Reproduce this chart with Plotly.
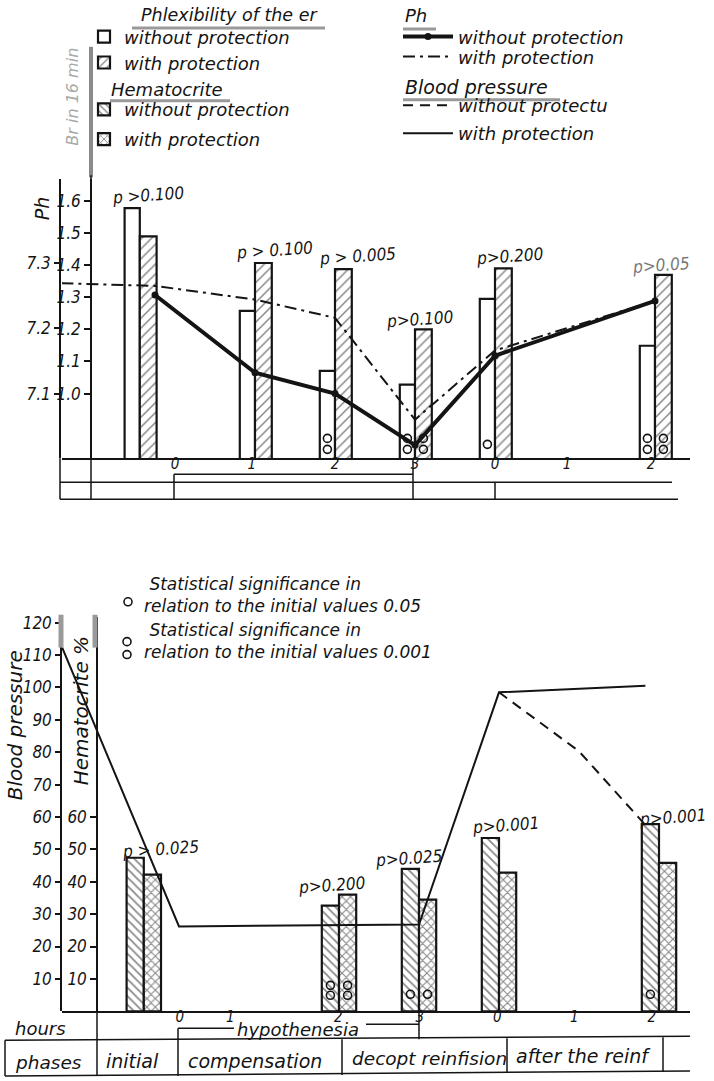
import plotly.graph_objects as go

# ---------------- data ----------------
hour_ticks = ["0", "1", "2", "3", "0", "1", "2"]
phases = ["initial", "compensation", "decopt reinfision", "after the reinf"]

# Flexibility of erythrocytes (top panel bars)
flex_groups = ["initial", "hyp 1 h", "hyp 2 h", "hyp 3 h", "reinf 0 h", "reinf 2 h"]
flex_without = [1.578, 1.258, 1.071, 1.028, 1.295, 1.149]
flex_with = [1.490, 1.407, 1.388, 1.200, 1.390, 1.370]
flex_p = ["p >0.100", "p > 0.100", "p > 0.005", "p>0.100", "p>0.200", "p>0.05"]
flex_sig_without = [0, 0, 2, 2, 1, 2]
flex_sig_with = [0, 0, 0, 2, 0, 2]

# pH (top panel lines)
ph_without_t = ["initial end", "hyp 1 h", "hyp 2 h", "hyp 3 h", "reinf 0 h", "reinf 2 h"]
ph_without = [7.251, 7.132, 7.100, 7.021, 7.158, 7.242]
ph_with_t = ["baseline", "initial end", "hyp 1 h", "hyp 2 h", "hyp 3 h", "reinf 0 h", "reinf 2 h"]
ph_with = [7.269, 7.265, 7.244, 7.216, 7.060, 7.166, 7.242]

# Hematocrit (bottom panel bars)
hct_groups = ["initial", "hyp 2 h", "hyp 3 h", "reinf 0 h", "reinf 2 h"]
hct_without = [47.4, 32.6, 44.0, 53.5, 57.8]
hct_with = [42.2, 36.0, 34.5, 42.8, 45.8]
hct_p = ["p > 0.025", "p>0.200", "p>0.025", "p>0.001", "p>0.001"]
hct_sig_without = [0, 2, 1, 0, 1]
hct_sig_with = [0, 2, 1, 0, 0]

# Blood pressure (bottom panel lines)
bp_with_t = ["baseline", "hyp 0 h", "hyp 3 h", "reinf 0 h", "reinf 2 h"]
bp_with = [112.3, 26.2, 26.8, 98.5, 100.5]
bp_without_t = ["reinf 0 h", "reinf 1 h", "reinf 2 h"]
bp_without = [98.5, 80.3, 57.5]

# ---------------- layout helpers ----------------
W, H = 714, 1081
def fx(p): return p / W
def fy(p): return 1 - p / H

FONT = "DejaVu Sans, Liberation Sans, sans-serif"
FONTC = "DejaVu Sans Condensed, DejaVu Sans, sans-serif"
INK = "#141414"

# time axis positions (hours); bars sit on these slots
slot = {"initial": -0.44, "hyp 0 h": 0, "hyp 1 h": 1, "hyp 2 h": 2, "hyp 3 h": 3,
        "reinf 0 h": 4, "reinf 1 h": 5, "reinf 2 h": 6}
line_slot = dict(slot, **{"baseline": -1.42, "initial end": -0.25})
bp_slot = dict(slot, **{"baseline": -1.46, "reinf 2 h": 5.83})

# pixel frames of the two panels
X_L, X_R = 62, 690
TOP_T, TOP_B = 176, 456
BOT_T, BOT_B = 615, 1011
top_xr = [(X_L - 175) / 80, (X_R - 175) / 80]
bot_xr = [(X_L - 179) / 80, (X_R - 179) / 80]
flex_r = [1.0 - (TOP_B - 391) / 322, 1.0 + (391 - TOP_T) / 322]
ph_r = [7.3 - (TOP_B - 260) / 655, 7.3 + (260 - TOP_T) / 655]
hb_r = [0, (BOT_B - BOT_T) / 3.25]

def flex_at(p): return 1.0 + (391 - p) / 322
def hb_at(p): return (BOT_B - p) / 3.25

BW_T, BW_B = 0.19, 0.215

fig = go.Figure()

# ---- top panel bars
fig.add_trace(go.Bar(x=[slot[g] for g in flex_groups], y=flex_without, width=BW_T, offset=-BW_T,
                     marker=dict(color="white", line=dict(color=INK, width=2.2)),
                     name="without protection", xaxis="x", yaxis="y", legend="legend"))
fig.add_trace(go.Bar(x=[slot[g] for g in flex_groups], y=flex_with, width=BW_T + 0.02, offset=0,
                     marker=dict(color="white", line=dict(color=INK, width=2.2),
                                 pattern=dict(shape="/", size=7, solidity=0.22, fgcolor=INK, bgcolor="white")),
                     name="with protection", xaxis="x", yaxis="y", legend="legend2"))

# ---- pH lines
fig.add_trace(go.Scatter(x=[line_slot[t] for t in ph_with_t], y=ph_with, mode="lines",
                         line=dict(color=INK, width=2, dash="12px,5px,3px,5px"),
                         name="with protection", xaxis="x", yaxis="y2", legend="legend6"))
fig.add_trace(go.Scatter(x=[line_slot[t] for t in ph_without_t], y=ph_without, mode="lines+markers",
                         line=dict(color=INK, width=4), marker=dict(size=7, color=INK),
                         name="without protection", xaxis="x", yaxis="y2", legend="legend5"))

# ---- significance circles
def sig_points(groups, sig, off, sl, lo, hi, mid):
    xs, ys = [], []
    for g, n in zip(groups, sig):
        if n == 2:
            xs += [sl[g] + off] * 2
            ys += [lo, hi]
        elif n == 1:
            xs.append(sl[g] + off)
            ys.append(mid)
    return xs, ys

circ = dict(symbol="circle-open", size=8, color=INK, line=dict(width=1.6, color=INK))
for sig, off in [(flex_sig_without, -BW_T / 2), (flex_sig_with, BW_T / 2 + 0.01)]:
    xs, ys = sig_points(flex_groups, sig, off, slot, flex_at(TOP_B - 9), flex_at(TOP_B - 20), flex_at(TOP_B - 14))
    fig.add_trace(go.Scatter(x=xs, y=ys, mode="markers", marker=circ, showlegend=False, xaxis="x", yaxis="y"))

# ---- bottom panel bars
fig.add_trace(go.Bar(x=[slot[g] for g in hct_groups], y=hct_without, width=BW_B, offset=-BW_B,
                     marker=dict(color="white", line=dict(color=INK, width=2.2),
                                 pattern=dict(shape="\\", size=6, solidity=0.3, fgcolor=INK, bgcolor="white")),
                     name="without protection", xaxis="x2", yaxis="y3", legend="legend3"))
fig.add_trace(go.Bar(x=[slot[g] for g in hct_groups], y=hct_with, width=BW_B, offset=0,
                     marker=dict(color="white", line=dict(color=INK, width=2.2),
                                 pattern=dict(shape="x", size=6, solidity=0.35, fgcolor=INK, bgcolor="white")),
                     name="with protection", xaxis="x2", yaxis="y3", legend="legend4"))

for sig, off in [(hct_sig_without, -BW_B / 2), (hct_sig_with, BW_B / 2)]:
    xs, ys = sig_points(hct_groups, sig, off, slot, hb_at(BOT_B - 16), hb_at(BOT_B - 26), hb_at(BOT_B - 17))
    fig.add_trace(go.Scatter(x=xs, y=ys, mode="markers", marker=circ, showlegend=False, xaxis="x2", yaxis="y3"))

# ---- blood pressure lines
fig.add_trace(go.Scatter(x=[bp_slot[t] for t in bp_without_t], y=bp_without, mode="lines",
                         line=dict(color=INK, width=2, dash="10px,7px"),
                         name="without protectu", xaxis="x2", yaxis="y4", legend="legend7"))
fig.add_trace(go.Scatter(x=[bp_slot[t] for t in bp_with_t], y=bp_with, mode="lines",
                         line=dict(color=INK, width=2),
                         name="with protection", xaxis="x2", yaxis="y4", legend="legend8"))

# ---------------- axes ----------------
tickf = dict(family=FONTC, size=17, color=INK, style="italic")
xcommon = dict(domain=[fx(X_L), fx(X_R)], showline=True, linecolor=INK, linewidth=2,
               showgrid=False, zeroline=False, ticks="", ticklabelstandoff=-9,
               tickfont=dict(family=FONTC, size=15, color=INK, style="italic"))
ycommon = dict(showline=True, linecolor=INK, linewidth=1.5, showgrid=False, zeroline=False,
               ticks="outside", ticklen=6, tickwidth=1.5, tickcolor=INK, tickfont=tickf, anchor="free")

fig.update_layout(
    width=W, height=H, margin=dict(l=0, r=0, t=0, b=0),
    paper_bgcolor="white", plot_bgcolor="rgba(0,0,0,0)", barmode="overlay",
    xaxis=dict(xcommon, range=top_xr, anchor="y",
               tickvals=[0, 0.96, 2, 3, 4, 4.9, 5.95], ticktext=hour_ticks),
    yaxis=dict(ycommon, domain=[fy(TOP_B), fy(TOP_T)], range=flex_r, position=fx(91),
               tickvals=[1.0, 1.1, 1.2, 1.3, 1.4, 1.5, 1.6], ticktext=["1.0", "1.1", "1.2", "1.3", "1.4", "1.5", "1.6"]),
    yaxis2=dict(ycommon, overlaying="y", range=ph_r, position=fx(60),
                tickvals=[7.1, 7.2, 7.3], ticktext=["7.1", "7.2", "7.3"], ticklen=5),
    xaxis2=dict(xcommon, range=bot_xr, anchor="y3",
                tickvals=[0.01, 0.64, 1.99, 3.01, 3.98, 4.94, 5.91], ticktext=hour_ticks),
    yaxis3=dict(ycommon, domain=[fy(BOT_B), fy(BOT_T)], range=hb_r, position=fx(97),
                tickvals=[10, 20, 30, 40, 50, 60]),
    yaxis4=dict(ycommon, overlaying="y3", range=hb_r, position=fx(61),
                tickvals=[10, 20, 30, 40, 50, 60, 70, 80, 90, 100, 110, 120], ticklen=5),
)

# ---------------- legends ----------------
def leg(xp, yp, iw=30):
    return dict(x=fx(xp), y=fy(yp), xanchor="left", yanchor="middle", bgcolor="rgba(0,0,0,0)",
                borderwidth=0, itemwidth=iw, font=dict(family=FONT, size=18, color=INK, style="italic"))

fig.update_layout(legend=leg(84, 33), legend2=leg(84, 59), legend3=leg(84, 106), legend4=leg(84, 136),
                  legend5=leg(398, 33, 50), legend6=leg(398, 53, 50), legend7=leg(398, 102, 50),
                  legend8=leg(398, 130, 50))

# ---------------- text ----------------
ann = []
def txt(x, y, s, size=16, angle=0, xa="left", color=INK, family=FONT, align="left"):
    ann.append(dict(x=fx(x), y=fy(y), xref="paper", yref="paper", text=s, showarrow=False,
                    xanchor=xa, yanchor="middle", textangle=angle, align=align,
                    font=dict(family=family, size=size, color=color, style="italic")))

txt(229, 11, "Phlexibility of the er", 17.5, xa="center")
txt(109, 86, "Hematocrite", 18)
txt(403, 12, "Ph", 18)
txt(403, 83, "Blood pressure", 19)
txt(73, 93, "Br in 16 min", 16, angle=-90, xa="center", color="#a8a8a8")

txt(42, 205, "Ph", 19, angle=-90, xa="center")
txt(15, 724, "Blood pressure", 20, angle=-90, xa="center")
txt(81, 710, "Hematocrite %", 20, angle=-90, xa="center")

# p-values
for s, (x, y) in zip(flex_p, [(148, 192), (274, 247), (357, 253), (419, 316), (509, 253), (661, 262)]):
    txt(x, y, s, 17, angle=-4, xa="center", family=FONTC, color="#777" if s == "p>0.05" else INK)
for s, (x, y) in zip(hct_p, [(160, 848), (331, 884), (408, 857), (505, 824), (672, 816)]):
    txt(x, y, s, 17, angle=-4, xa="center", family=FONTC)

# statistical significance key
txt(142, 593, "&nbsp;Statistical significance in<br>relation to the initial values 0.05", 17)
txt(142, 639, "&nbsp;Statistical significance in<br>relation to the initial values 0.001", 17)

# table text
txt(13, 1028, "hours", 18)
txt(13, 1062, "phases", 18.5)
txt(104, 1061, phases[0], 19)
txt(186, 1061, phases[1], 19)
txt(350, 1058, phases[2], 18.5)
txt(514, 1056, phases[3], 19)
txt(298, 1029, "hypothenesia", 18, xa="center")

fig.update_layout(annotations=ann)

# ---------------- rules / table lines ----------------
shp = []
def ln(x0, y0, x1, y1, w=1.5, c=INK):
    shp.append(dict(type="line", xref="paper", yref="paper", x0=fx(x0), y0=fy(y0), x1=fx(x1), y1=fy(y1),
                    line=dict(color=c, width=w)))
def ring(x, y, r=4):
    shp.append(dict(type="circle", xref="paper", yref="paper", x0=fx(x - r), x1=fx(x + r),
                    y0=fy(y + r), y1=fy(y - r), line=dict(color=INK, width=1.6)))

# header underlines and bars
ln(132, 24, 325, 24, 3, "#9a9a9a")
ln(403, 25, 436, 25, 3, "#9a9a9a")
ln(110, 97, 230, 97, 3, "#9a9a9a")
ln(403, 96, 560, 96, 3, "#9a9a9a")
ln(91, 43, 91, 174, 4, "#8a8a8a")
# top frame & table
ln(60, TOP_B, 60, 497)
ln(91, 172, 91, 497)
ln(60, 480, 672, 480)
ln(60, 497, 678, 497)
ln(174, 472, 174, 497)
ln(174, 472, 413, 472)
ln(413, TOP_B, 413, 497)
ln(495, 480, 495, 497)
# bottom frame gray bars
ln(61, 613, 61, 646, 5, "#9a9a9a")
ln(95, 613, 95, 646, 5, "#9a9a9a")
# bottom table
ln(97, BOT_B, 97, 1076)
ln(5, 1040, 690, 1036)
ln(5, 1076, 690, 1071)
ln(5, 1040, 5, 1076)
ln(178, 1028, 178, 1076)
ln(178, 1028, 234, 1028)
ln(366, 1024, 419, 1024)
ln(419, BOT_B, 419, 1039)
ln(342, 1039, 342, 1075)
ln(507, 1038, 507, 1073)
ln(663, 1037, 663, 1072)
# significance key circles
ring(128, 600)
ring(127, 640)
ring(127, 653)

fig.update_layout(shapes=shp)

# remove the browser's default 8px page margin so the figure sits at the window origin
fig.write_html("out.html", config={"displayModeBar": False},
               post_script="document.body.style.margin='0px';")
